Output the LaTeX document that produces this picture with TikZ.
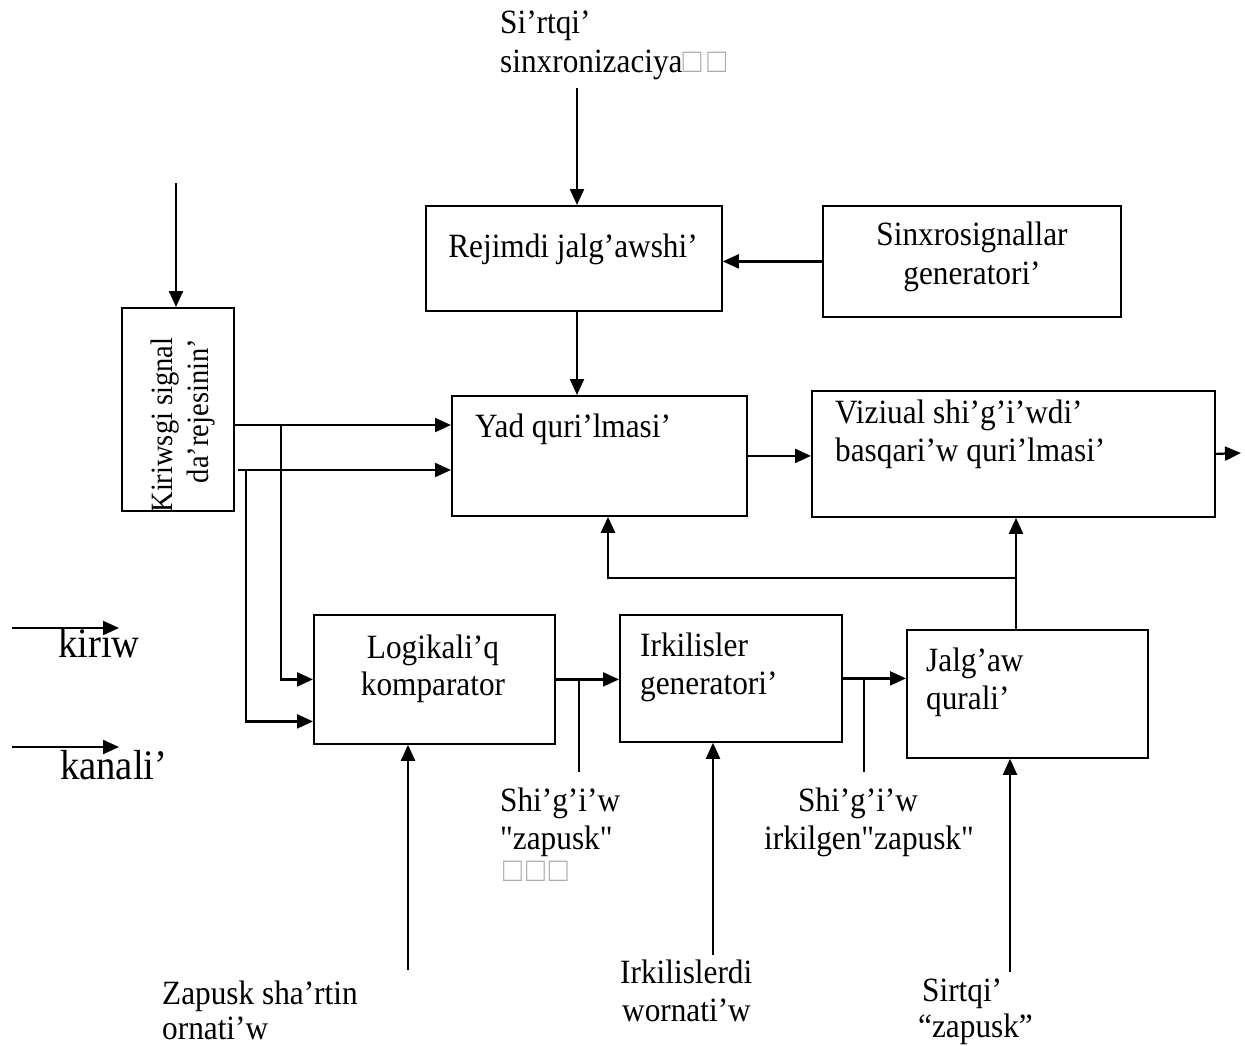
\documentclass[tikz,border=0pt]{standalone}
\usepackage{fontspec}
% slightly condensed Times-like face, as the captions are set
\newfontfamily\tnr{Liberation Serif}[FakeStretch=0.92]
\usetikzlibrary{arrows.meta}
\tikzset{
  box/.style={draw, line width=1.8pt, inner sep=0pt, anchor=north west},
  arr/.style={line width=2.2pt, -{Triangle[length=16pt,width=14pt]}},
  ln/.style={line width=2.2pt},
  t/.style={font=\tnr\fontsize{34}{38}\selectfont, inner sep=0pt},
  tr/.style={font=\tnr\fontsize{31}{36}\selectfont, inner sep=0pt},
  big/.style={font=\tnr\fontsize{42}{48}\selectfont, inner sep=0pt},
}
\newcommand{\tofu}{\textcolor{gray!65}{□}}
\begin{document}
\begin{tikzpicture}[x=1pt, y=-1pt]
\useasboundingbox (0,0) rectangle (1245,1045);

% blocks
\node[box, minimum width=296pt, minimum height=105pt] (rej) at (425,205) {};
\node[box, minimum width=298pt, minimum height=111pt] (sin) at (822,205) {};
\node[box, minimum width=112pt, minimum height=203pt] (kir) at (121,307) {};
\node[box, minimum width=295pt, minimum height=120pt] (yad) at (451,395) {};
\node[box, minimum width=403pt, minimum height=126pt] (viz) at (811,390) {};
\node[box, minimum width=241pt, minimum height=129pt] (log) at (313,614) {};
\node[box, minimum width=222pt, minimum height=127pt] (irk) at (619,614) {};
\node[box, minimum width=241pt, minimum height=128pt] (jal) at (906,629) {};

% block captions
\node[t, anchor=base] (rejt) at (573,257) {Rejimdi jalg’awshi’};
\node[t, anchor=base] (sint1) at (972,245) {Sinxrosignallar};
\node[t, anchor=base] (sint2) at (972,284) {generatori’};
\node[tr, anchor=base, rotate=90] (kirt1) at (172,425) {Kiriwsgi signal};
\node[tr, anchor=base, rotate=90] (kirt2) at (208,411) {da’rejesinin’};
\node[t, anchor=base west] (yadt) at (475,437) {Yad quri’lmasi’};
\node[t, anchor=base west] (vizt1) at (835,423) {Viziual shi’g’i’wdi’};
\node[t, anchor=base west] (vizt2) at (835,461) {basqari’w quri’lmasi’};
\node[t, anchor=base] (logt1) at (433,658) {Logikali’q};
\node[t, anchor=base] (logt2) at (433,695) {komparator};
\node[t, anchor=base west] (irkt1) at (640,656) {Irkilisler};
\node[t, anchor=base west] (irkt2) at (640,694) {generatori’};
\node[t, anchor=base west] (jalt1) at (926,671) {Jalg’aw};
\node[t, anchor=base west] (jalt2) at (926,709) {qurali’};

% free labels
\node[t, anchor=base west] (sr1) at (500,33) {Si’rtqi’};
\node[t, anchor=base west] (sr2) at (500,72) {sinxronizaciya\tofu\hspace{6pt}\tofu};
\node[t, anchor=base west] (sh1) at (500,811) {Shi’g’i’w};
\node[t, anchor=base west] (sh2) at (500,849) {"zapusk"};
\node[t, anchor=base west] (sh3) at (503,881) {\tofu\hspace{4pt}\tofu\hspace{4pt}\tofu};
\node[t, anchor=base] (ish1) at (858,811) {Shi’g’i’w};
\node[t, anchor=base] (ish2) at (869,849) {irkilgen"zapusk"};
\node[t, anchor=base west] (zs1) at (162,1004) {Zapusk sha’rtin};
\node[t, anchor=base west] (zs2) at (162,1039) {ornati’w};
\node[t, anchor=base west] (iw1) at (620,983) {Irkilislerdi};
\node[t, anchor=base west] (iw2) at (622,1021) {wornati’w};
\node[t, anchor=base west] (sz1) at (922,1001) {Sirtqi’};
\node[t, anchor=base west] (sz2) at (918,1037) {“zapusk”};
\node[big, anchor=base west] (kw) at (58,657) {kiriw};
\node[big, anchor=base west] (kn) at (60,779) {kanali’};

% free ends of connectors
\coordinate (st) at (577,88);
\coordinate (kt) at (176,183);
\coordinate (j1) at (281,425);
\coordinate (s2) at (238,470);
\coordinate (j2) at (246,470);
\coordinate (out) at (1241,453);
\coordinate (fb) at (1016,578);
\coordinate (fy) at (608,578);
\coordinate (t1) at (579,772);
\coordinate (t2) at (864,772);
\coordinate (zb) at (408,970);
\coordinate (ib) at (713,955);
\coordinate (sb) at (1010,972);
\coordinate (ka) at (12,628);
\coordinate (kb) at (119,628);
\coordinate (na) at (12,747);
\coordinate (nb) at (119,747);

% connectors
\draw[arr] (st) -- (st |- rej.north);
\draw[arr] (sin.west) -- (sin.west -| rej.east);
\draw[arr] (rej.south -| st) -- (yad.north -| st);
\draw[arr] (kt) -- (kt |- kir.north);
\draw[arr] (kir.east |- j1) -- (yad.west |- j1);
\draw[arr] (j1) |- (log.west);
\draw[arr] (s2) -- (yad.west |- s2);
\draw[arr] (j2) |- ([yshift=-42pt]log.west);
\draw[arr] (yad.east) -- (yad.east -| viz.west);
\draw[arr] (viz.east) -- (out);
\draw[arr] (fb |- jal.north) -- (fb |- viz.south);
\draw[arr] (fb) -- (fy) -- (fy |- yad.south);
\draw[arr] (log.east) -- (log.east -| irk.west);
\draw[ln] (t1 |- log.east) -- (t1);
\draw[arr] (irk.east) -- (irk.east -| jal.west);
\draw[ln] (t2 |- irk.east) -- (t2);
\draw[arr] (zb) -- (zb |- log.south);
\draw[arr] (ib) -- (ib |- irk.south);
\draw[arr] (sb) -- (sb |- jal.south);
\draw[arr] (ka) -- (kb);
\draw[arr] (na) -- (nb);
\end{tikzpicture}
\end{document}
